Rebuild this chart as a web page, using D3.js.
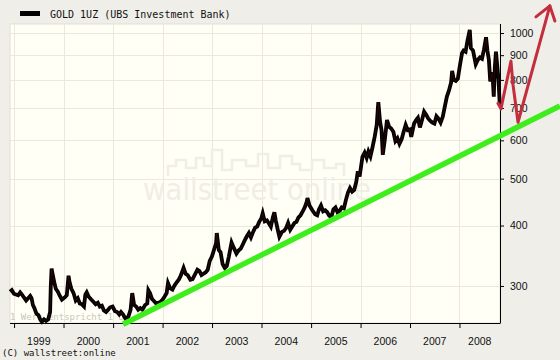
<!DOCTYPE html>
<html>
<head>
<meta charset="utf-8">
<script src="https://cdn.jsdelivr.net/npm/d3@7"></script>
<style>
  html, body { margin: 0; padding: 0; background: #efeee9; }
  svg { display: block; }
</style>
</head>
<body>
<svg id="chart" width="560" height="360"></svg>
<script>
// ---------------- DATA ----------------
const title = "GOLD 1UZ (UBS Investment Bank)";
const copyright = "(C) wallstreet:online";
const unitNote = "1 Wert entspricht 1 Oz";
const watermark = "wallstreet online";

const yTickValues = [300, 400, 500, 600, 700, 800, 900, 1000];
const yearLabels = [1999, 2000, 2001, 2002, 2003, 2004, 2005, 2006, 2007, 2008];

const priceDates = [
"1998-12-02","1998-12-15","1998-12-31","1999-01-15","1999-01-31","1999-02-15","1999-02-28","1999-03-15","1999-03-31",
"1999-04-15","1999-04-30","1999-05-10","1999-05-20","1999-05-31","1999-06-15","1999-06-30","1999-07-15","1999-07-25",
"1999-08-10","1999-08-25","1999-09-10","1999-09-24","1999-09-29","1999-10-05","1999-10-12","1999-10-25","1999-11-05",
"1999-11-20","1999-12-05","1999-12-20","2000-01-10","2000-01-25","2000-02-07","2000-02-15","2000-02-28","2000-03-15",
"2000-03-31","2000-04-15","2000-04-30","2000-05-15","2000-05-31","2000-06-10","2000-06-20","2000-07-05","2000-07-25",
"2000-08-10","2000-08-25","2000-09-10","2000-09-25","2000-10-10","2000-10-25","2000-11-10","2000-11-25","2000-12-10",
"2000-12-28","2001-01-15","2001-01-31","2001-02-15","2001-02-28","2001-03-15","2001-04-01","2001-04-10","2001-04-25",
"2001-05-10","2001-05-22","2001-06-05","2001-06-20","2001-07-05","2001-07-20","2001-08-05","2001-08-25","2001-09-10",
"2001-09-18","2001-09-30","2001-10-15","2001-10-31","2001-11-15","2001-11-30","2001-12-15","2001-12-31","2002-01-15",
"2002-01-31","2002-02-10","2002-02-25","2002-03-15","2002-03-31","2002-04-15","2002-04-30","2002-05-15","2002-06-05",
"2002-06-20","2002-07-05","2002-07-25","2002-08-10","2002-08-31","2002-09-15","2002-09-30","2002-10-15","2002-10-31",
"2002-11-15","2002-11-30","2002-12-15","2002-12-31","2003-01-15","2003-01-31","2003-02-05","2003-02-20","2003-03-05",
"2003-03-20","2003-04-05","2003-04-20","2003-05-05","2003-05-25","2003-06-10","2003-06-30","2003-07-15","2003-07-31",
"2003-08-15","2003-08-31","2003-09-15","2003-09-30","2003-10-15","2003-10-31","2003-11-15","2003-11-30","2003-12-15",
"2003-12-31","2004-01-10","2004-01-25","2004-02-10","2004-02-25","2004-03-10","2004-03-25","2004-04-05","2004-04-15",
"2004-04-30","2004-05-12","2004-05-31","2004-06-15","2004-06-30","2004-07-15","2004-07-31","2004-08-15","2004-08-31",
"2004-09-15","2004-09-30","2004-10-15","2004-10-31","2004-11-15","2004-11-30","2004-12-05","2004-12-20","2005-01-10",
"2005-01-31","2005-02-15","2005-02-28","2005-03-15","2005-03-31","2005-04-15","2005-04-30","2005-05-15","2005-05-31",
"2005-06-15","2005-06-30","2005-07-15","2005-07-31","2005-08-15","2005-08-31","2005-09-15","2005-09-30","2005-10-15",
"2005-10-31","2005-11-15","2005-11-30","2005-12-12","2005-12-25","2006-01-15","2006-01-31","2006-02-15","2006-02-28",
"2006-03-15","2006-03-31","2006-04-15","2006-04-30","2006-05-12","2006-05-25","2006-06-05","2006-06-14","2006-06-30",
"2006-07-15","2006-07-31","2006-08-15","2006-08-31","2006-09-15","2006-09-30","2006-10-15","2006-10-31","2006-11-15",
"2006-11-30","2006-12-15","2006-12-31","2007-01-10","2007-01-31","2007-02-15","2007-02-28","2007-03-15","2007-03-31",
"2007-04-15","2007-04-30","2007-05-15","2007-05-31","2007-06-15","2007-06-30","2007-07-15","2007-07-31","2007-08-15",
"2007-08-31","2007-09-15","2007-09-30","2007-10-15","2007-10-31","2007-11-08","2007-11-20","2007-12-05","2007-12-20",
"2008-01-05","2008-01-20","2008-01-31","2008-02-15","2008-02-29","2008-03-17","2008-03-25","2008-04-10","2008-04-30",
"2008-05-15","2008-05-31","2008-06-15","2008-06-30","2008-07-15","2008-07-25","2008-08-05","2008-08-15","2008-08-31",
"2008-09-10","2008-09-18","2008-09-26","2008-10-05","2008-10-15","2008-10-24"
];
const priceValues = [
292,294,289,288,287,291,288,284,280,
283,286,283,274,270,263,261,255,253,
256,254,256,265,300,326,318,305,296,
292,286,281,284,287,315,305,296,290,
280,283,276,275,272,288,291,285,281,
278,275,277,272,273,267,265,268,271,
272,266,265,262,265,262,257,255,260,
268,290,274,272,268,270,268,274,276,
294,290,282,279,276,277,278,281,285,
290,304,297,295,301,305,309,315,327,
318,316,309,310,318,324,322,316,318,
320,324,338,345,356,368,386,356,352,
333,327,330,345,369,360,350,355,358,
365,373,380,386,378,388,396,398,407,
414,424,408,410,404,398,416,426,410,
392,379,388,390,395,405,392,398,405,
407,416,420,428,436,448,456,440,430,
422,420,432,440,428,430,426,419,417,
432,436,426,429,436,434,452,468,478,
470,474,492,518,505,555,566,552,569,
556,582,610,645,720,655,630,560,605,
661,640,635,625,598,606,590,603,625,
646,630,632,610,650,661,668,638,662,
688,678,666,658,653,650,673,665,653,
672,705,739,760,790,835,800,796,805,
860,910,920,915,965,1015,931,920,862,
880,890,885,925,980,920,880,794,830,
739,850,915,860,800,712
];

// hand-drawn annotations (in data coordinates)
const trendDates = ["2001-03-15", "2010-01-11"];
const trendValues = [250, 707];
const arrowDates = ["2008-10-11", "2008-11-02", "2009-01-15", "2009-01-30", "2009-03-08", "2009-10-29"];
const arrowValues = [716, 697, 875, 782, 654, 1138];
const arrowHeadDates = ["2009-07-18", "2009-10-29", "2009-12-05"];
const arrowHeadValues = [1080, 1138, 1059];

// ---------------- CHART ----------------
const parse = d3.timeParse("%Y-%m-%d");
const svg = d3.select("#chart");
const W = 560, H = 360;
const L = 10, R = 500, T = 24, B = 323;

const x = d3.scaleTime()
  .domain([new Date(1998, 11, 2), new Date(2008, 9, 26)])
  .range([L, R]);
const y = d3.scaleLog()
  .domain([251.5, 1044])
  .range([B, T]);

svg.append("rect").attr("width", W).attr("height", H).attr("fill", "#efeee9");

// plot background
svg.append("rect")
  .attr("x", L).attr("y", T).attr("width", R - L).attr("height", B - T)
  .attr("fill", "#fffff6").attr("stroke", "#e2e0d6").attr("stroke-width", 1);

// grid
const yearStarts = d3.timeYear.range(new Date(1999, 0, 1), new Date(2009, 0, 1));
svg.append("g").selectAll("line").data(yearStarts).join("line")
  .attr("x1", d => Math.round(x(d)) + 0.5).attr("x2", d => Math.round(x(d)) + 0.5)
  .attr("y1", T).attr("y2", B)
  .attr("stroke", "#ebe9dd").attr("stroke-width", 1);
svg.append("g").selectAll("line").data(yTickValues).join("line")
  .attr("x1", L).attr("x2", R)
  .attr("y1", d => Math.round(y(d)) + 0.5).attr("y2", d => Math.round(y(d)) + 0.5)
  .attr("stroke", "#ebe9dd").attr("stroke-width", 1);

// watermark (faint skyline + text)
svg.append("path")
  .attr("d", "M168,176 V166 H176 V160 H186 V168 H196 V158 H204 V166 H212 V150 H222 V170 H232 V160 H246 V166 H258 V154 H268 V168 H280 V156 H292 V164 H300 V170 H312 V160 H324 V168 H336 V164 H344 V176")
  .attr("fill", "none").attr("stroke", "#f0efe6").attr("stroke-width", 2.5);
svg.append("text")
  .attr("x", 143).attr("y", 200)
  .attr("textLength", 228).attr("lengthAdjust", "spacingAndGlyphs")
  .attr("font-family", "DejaVu Sans, Verdana, sans-serif")
  .attr("font-size", 30)
  .attr("fill", "#f0eee5")
  .text(watermark);

// unit note
svg.append("text")
  .attr("x", 10).attr("y", 320)
  .attr("font-family", "DejaVu Sans Mono, monospace")
  .attr("font-size", 9)
  .attr("fill", "#c9c7bd")
  .text(unitNote);

// price series
const series = priceDates.map((d, i) => ({ date: parse(d), value: priceValues[i] }));
const line = d3.line().x(d => x(d.date)).y(d => y(d.value));
svg.append("path").datum(series)
  .attr("d", line).attr("fill", "none")
  .attr("stroke", "#000").attr("stroke-width", 3.8).attr("stroke-linejoin", "miter");
svg.append("path").datum(series)
  .attr("d", line).attr("fill", "none")
  .attr("stroke", "#6e1212").attr("stroke-width", 0.7).attr("stroke-opacity", 0.55);

// axes
const xAxis = d3.axisBottom(x).tickValues(yearStarts).tickSize(5).tickFormat("");
const gx = svg.append("g").attr("transform", `translate(0,${B})`).call(xAxis);
gx.select(".domain").attr("stroke", "#000").attr("d", `M${L},0.5H${R}`);
gx.selectAll(".tick line").attr("stroke", "#000");

const [d0, d1] = x.domain();
svg.append("g").selectAll("text").data(yearLabels).join("text")
  .attr("x", yr => {
    const a = Math.max(+new Date(yr, 0, 1), +d0), b = Math.min(+new Date(yr + 1, 0, 1), +d1);
    return (x(new Date(a)) + x(new Date(b))) / 2;
  })
  .attr("y", 345)
  .attr("text-anchor", "middle")
  .attr("font-family", "Liberation Sans, Arial, sans-serif")
  .attr("font-size", 10.5)
  .attr("fill", "#111")
  .text(d => d);

const yAxis = d3.axisRight(y).tickValues(yTickValues).tickSize(4).tickPadding(6).tickFormat(d3.format("d"));
const gy = svg.append("g").attr("transform", `translate(${R},0)`).call(yAxis);
gy.select(".domain").attr("stroke", "#000").attr("d", `M0.5,${T}V${B + 0.5}`);
gy.selectAll(".tick line").attr("stroke", "#000");
gy.selectAll(".tick text")
  .attr("font-family", "Liberation Sans, Arial, sans-serif")
  .attr("font-size", 10.5).attr("fill", "#111");

// trend line (green)
const trend = trendDates.map((d, i) => ({ date: parse(d), value: trendValues[i] }));
svg.append("path").datum(trend)
  .attr("d", line).attr("fill", "none")
  .attr("stroke", "#3ded1c").attr("stroke-width", 5.5).attr("stroke-linecap", "butt");

// red arrow
const arrow = arrowDates.map((d, i) => ({ date: parse(d), value: arrowValues[i] }));
const head = arrowHeadDates.map((d, i) => ({ date: parse(d), value: arrowHeadValues[i] }));
svg.append("path").datum(arrow)
  .attr("d", line).attr("fill", "none")
  .attr("stroke", "#c42d3b").attr("stroke-width", 3).attr("stroke-linejoin", "round").attr("stroke-linecap", "round");
svg.append("path").datum(head)
  .attr("d", line).attr("fill", "none")
  .attr("stroke", "#c42d3b").attr("stroke-width", 3).attr("stroke-linejoin", "round").attr("stroke-linecap", "round");

// legend / title
svg.append("rect").attr("x", 20).attr("y", 11).attr("width", 20).attr("height", 5).attr("fill", "#000");
svg.append("text")
  .attr("x", 50).attr("y", 17.5)
  .attr("font-family", "DejaVu Sans Mono, monospace")
  .attr("font-size", 10)
  .attr("fill", "#111")
  .text(title);

// copyright
svg.append("text")
  .attr("x", 2).attr("y", 356)
  .attr("font-family", "DejaVu Sans Mono, monospace")
  .attr("font-size", 9)
  .attr("fill", "#111")
  .text(copyright);
</script>
</body>
</html>
